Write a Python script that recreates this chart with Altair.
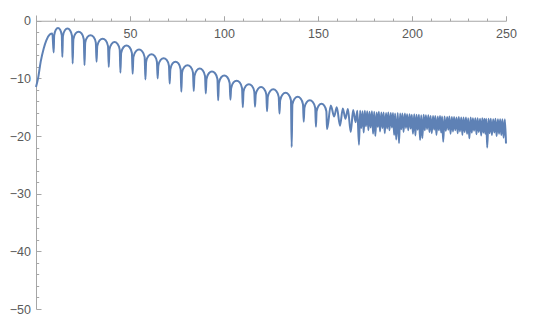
import altair as alt
import pandas as pd

# ---- data ----
# initial rise of the curve
rise_x = [0.0, 1.1, 2.5, 4.1, 5.5, 7.3, 8.7]
rise_y = [-11.5, -10.0, -7.1, -4.8, -3.4, -2.4, -2.2]

# positions and depths of the sharp dips between the regular lobes
dip_x = [9.4, 14.0, 19.5, 25.8, 32.2, 38.7, 44.9, 51.4, 58.2, 64.7, 71.1, 77.3,
         83.9, 90.3, 96.9, 103.4, 110.0, 116.5, 122.9, 129.5, 136.0, 142.4, 148.9, 154.8]
dip_y = [-5.5, -6.3, -7.4, -7.7, -7.1, -8.0, -9.0, -9.2, -10.2, -10.0, -10.9, -12.3,
         -12.2, -12.6, -13.8, -13.7, -15.0, -14.9, -15.7, -16.1, -21.9, -17.5, -18.4, -18.8]
# top of each lobe between two consecutive dips
peak_y = [-1.25, -1.35, -1.9, -2.5, -3.1, -3.7, -4.3, -5.0, -5.8, -6.5, -7.1, -7.7,
          -8.3, -8.8, -9.5, -10.4, -11.0, -11.5, -11.9, -12.5, -13.2, -13.8, -14.4]
# arch outline of a lobe (fraction of lobe width, drop below top)
arch_frac = [0.06, 0.25, 0.5, 0.75, 0.94]
arch_drop = [1.3, 0.3, 0.0, 0.3, 1.3]

# irregular part after the regular lobes
tail_x = [156.8, 158.6, 160.0, 161.7, 163.2, 164.6, 165.9, 167.4, 168.7, 170.0, 170.9, 171.8]
tail_y = [-14.7, -16.6, -15.0, -18.2, -15.2, -17.0, -15.3, -19.3, -15.5, -17.6, -15.6, -21.5]

# dense oscillation: tops and spikes
dense_top_x = [172.4, 173.7, 174.9, 176.2, 177.4, 178.7, 179.9, 181.2, 182.4, 183.7, 184.9, 186.2,
               187.4, 188.7, 189.9, 191.0, 192.4, 193.7, 194.9, 196.2, 197.4, 198.7, 199.9, 201.2,
               202.4, 203.7, 204.9, 206.2, 207.4, 208.7, 209.9, 211.2, 212.4, 213.7, 214.9, 216.0,
               217.3, 218.7, 219.9, 221.2, 222.4, 223.7, 224.9, 226.2, 227.4, 228.7, 229.9, 231.2,
               232.4, 233.7, 234.9, 236.2, 237.4, 238.5, 239.5, 240.7, 241.9, 243.2, 244.4, 245.7,
               246.9, 248.1, 249.4]
dense_top_y = [-15.6, -15.7, -15.6, -15.7, -15.8, -15.7, -15.8, -15.9, -15.8, -15.9, -15.9, -16.0,
               -15.9, -16.0, -16.0, -16.1, -16.0, -16.1, -16.1, -16.1, -16.2, -16.2, -16.3, -16.2,
               -16.3, -16.3, -16.4, -16.3, -16.4, -16.4, -16.5, -16.5, -16.5, -16.6, -16.5, -16.6,
               -16.6, -16.7, -16.6, -16.7, -16.7, -16.8, -16.7, -16.8, -16.8, -16.8, -16.9, -16.8,
               -16.9, -16.9, -16.9, -17.0, -16.9, -17.0, -17.0, -17.0, -17.0, -17.1, -17.0, -17.1,
               -17.1, -17.1, -17.1]
dense_low_x = [173.0, 174.3, 175.5, 176.8, 178.0, 179.3, 180.5, 181.8, 183.0, 184.3, 185.5, 186.8,
               188.0, 189.3, 190.5, 191.6, 193.1, 194.3, 195.5, 196.8, 198.0, 199.3, 200.5, 201.8,
               203.0, 204.3, 205.5, 206.8, 208.0, 209.3, 210.5, 211.8, 213.0, 214.3, 215.5, 216.6,
               218.0, 219.3, 220.5, 221.8, 223.0, 224.3, 225.5, 226.8, 228.0, 229.3, 230.5, 231.8,
               233.0, 234.3, 235.5, 236.8, 238.0, 239.0, 240.0, 241.3, 242.5, 243.8, 245.0, 246.3,
               247.5, 248.7, 250.0]
dense_low_y = [-18.6, -19.4, -18.3, -19.0, -18.5, -19.6, -20.0, -18.4, -19.2, -18.6, -19.5, -18.7,
               -19.0, -18.5, -19.8, -20.6, -21.2, -18.8, -19.3, -18.6, -19.0, -18.7, -19.6, -19.9,
               -18.9, -20.7, -20.4, -19.0, -18.8, -19.3, -19.5, -18.9, -19.8, -19.0, -19.4, -21.0,
               -19.1, -18.9, -19.6, -19.2, -19.0, -19.5, -19.2, -19.8, -19.3, -19.6, -20.4, -19.4,
               -19.1, -19.7, -19.3, -19.9, -19.4, -19.6, -22.0, -19.5, -19.8, -19.4, -20.0, -19.6,
               -19.8, -20.3, -21.3]

# ticks
x_major = [50, 100, 150, 200, 250]
x_minor = [10, 20, 30, 40, 60, 70, 80, 90, 110, 120, 130, 140, 160, 170, 180, 190,
           210, 220, 230, 240]
y_major = [-50, -40, -30, -20, -10, 0]
y_minor = [-48, -46, -44, -42, -38, -36, -34, -32, -28, -26, -24, -22,
           -18, -16, -14, -12, -8, -6, -4, -2]

# ---- build the point table ----
xs, ys = list(rise_x), list(rise_y)
for i in range(len(dip_x)):
    xs.append(dip_x[i])
    ys.append(dip_y[i])
    if i < len(peak_y):
        w = dip_x[i + 1] - dip_x[i]
        for f, d in zip(arch_frac, arch_drop):
            xs.append(dip_x[i] + f * w)
            ys.append(peak_y[i] - d)
xs += tail_x
ys += tail_y
for tx, ty, lx, ly in zip(dense_top_x, dense_top_y, dense_low_x, dense_low_y):
    xs += [tx, lx]
    ys += [ty, ly]

df = pd.DataFrame({"x": xs, "y": ys})

W, H = 470, 294
YMIN, YMAX = -50, 1
unit = H / (YMAX - YMIN)

AX = "#a6a6a6"
LAB = "#5a5a5a"
FONT = "Liberation Sans"

xscale = alt.Scale(domain=[0, 250], nice=False, zero=False)
yscale = alt.Scale(domain=[YMIN, YMAX], nice=False, zero=False)

line = alt.Chart(df).mark_line(
    interpolate="monotone", color="#5E81B5", strokeWidth=2, strokeJoin="round"
).encode(
    x=alt.X("x:Q", scale=xscale, axis=alt.Axis(
        orient="top", offset=-unit, values=x_major, tickSize=5, tickColor=AX,
        domainColor=AX, labelPadding=-17.5, labelBaseline="middle",
        labelFont=FONT, labelFontSize=12.5, labelColor=LAB, labelFlush=False,
        labelOverlap=False, grid=False, title=None, format="d")),
    y=alt.Y("y:Q", scale=yscale, axis=alt.Axis(
        orient="right", offset=-W, values=y_major, tickSize=5, tickColor=AX,
        domainColor=AX, labelAlign="right", labelPadding=-10.5, labelBaseline="middle",
        labelFont=FONT, labelFontSize=12.5, labelColor=LAB, labelFlush=False,
        labelOverlap=False, grid=False, title=None, format="d")),
)

minor = alt.Chart(df).mark_line(opacity=0).encode(
    x=alt.X("x:Q", scale=xscale, axis=alt.Axis(
        orient="top", offset=-unit, values=x_minor, tickSize=2.7, tickColor=AX,
        domain=False, labels=False, grid=False, title=None)),
    y=alt.Y("y:Q", scale=yscale, axis=alt.Axis(
        orient="right", offset=-W, values=y_minor, tickSize=2.7, tickColor=AX,
        domain=False, labels=False, grid=False, title=None)),
)

chart = alt.layer(minor, line).resolve_axis(
    x="independent", y="independent"
).properties(
    width=W, height=H,
    padding={"left": 36, "top": 15, "right": 34, "bottom": 19},
    autosize="none",
).configure_view(stroke=None)

chart.save("out.html", embed_options={"renderer": "svg", "actions": False})
